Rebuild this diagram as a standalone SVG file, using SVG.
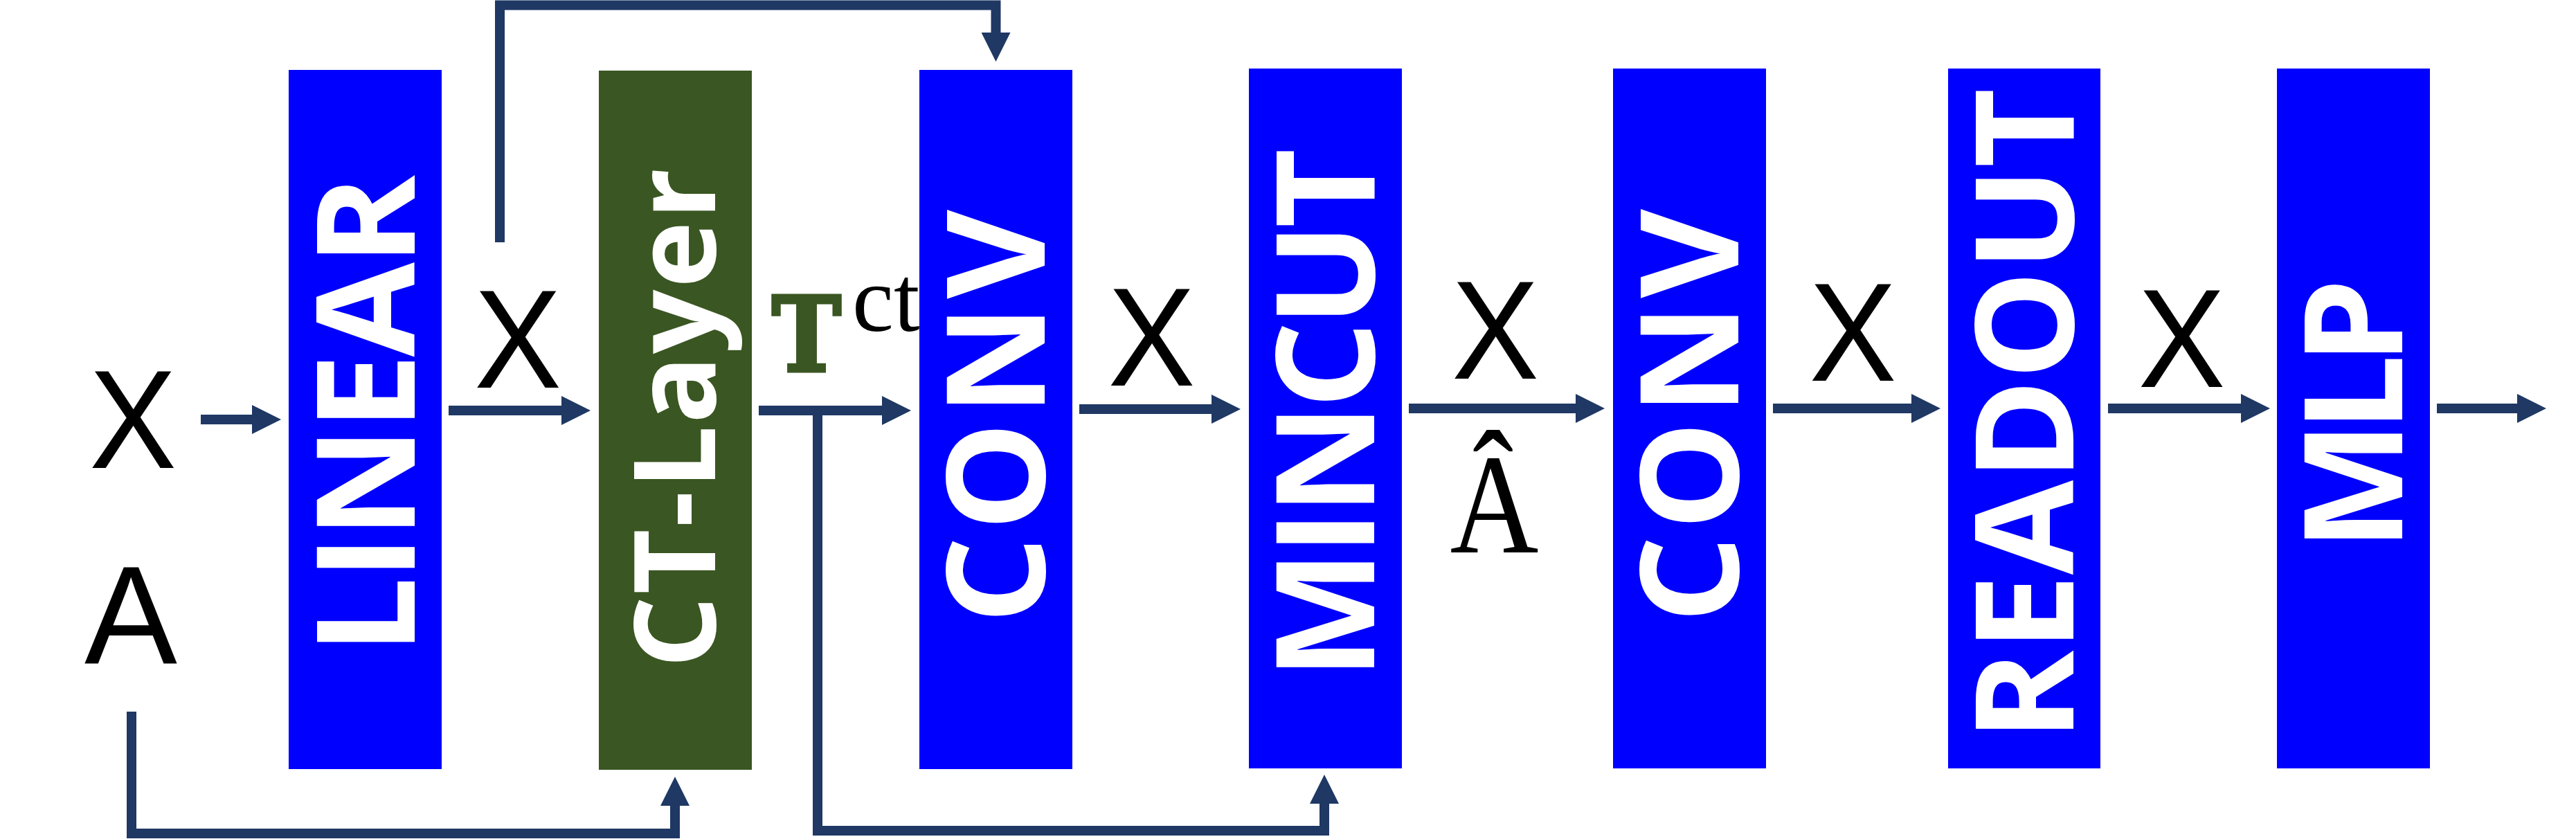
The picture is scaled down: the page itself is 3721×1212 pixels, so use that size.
<svg xmlns="http://www.w3.org/2000/svg" width="3721" height="1212" viewBox="0 0 3721 1212">
  <style>
    .blue { fill: #0000FF; }
    .green { fill: #3A5622; }
    .lbl { font-family: "Open Sans", Lato, sans-serif; font-weight: 700; font-size: 198px; fill: #FFFFFF; text-anchor: middle; }
    .var { font-family: "Liberation Sans", Arial, sans-serif; font-size: 203px; fill: #000000; text-anchor: middle; }
    .math { font-family: "Liberation Serif", "Times New Roman", serif; fill: #000000; }
    .conn { fill: none; stroke: #1F3864; stroke-width: 14; stroke-linejoin: miter; stroke-linecap: butt; marker-end: url(#arrow); }
  </style>
  <defs>
    <marker id="arrow" markerUnits="userSpaceOnUse" markerWidth="42" markerHeight="42" viewBox="0 0 42 42" refX="12" refY="21" orient="auto">
      <path d="M0,0 L42,21 L0,42 z" fill="#1F3864"/>
    </marker>
  </defs>

  <g id="node-linear">
    <rect class="blue" x="417" y="101" width="221" height="1010"/>
    <text class="lbl" transform="translate(599,599) rotate(-90)" textLength="692" lengthAdjust="spacing">LINEAR</text>
  </g>
  <g id="node-ctlayer">
    <rect class="green" x="865" y="102" width="221" height="1010"/>
    <text class="lbl" style="font-size:163px" transform="translate(1033,604) rotate(-90)" textLength="722" lengthAdjust="spacing">CT-Layer</text>
  </g>
  <g id="node-conv1">
    <rect class="blue" x="1328" y="101" width="221" height="1010"/>
    <text class="lbl" transform="translate(1509,602) rotate(-90)" textLength="598" lengthAdjust="spacing">CONV</text>
  </g>
  <g id="node-mincut">
    <rect class="blue" x="1804" y="99" width="221" height="1011"/>
    <text class="lbl" transform="translate(1985,598) rotate(-90)" textLength="767" lengthAdjust="spacing">MINCUT</text>
  </g>
  <g id="node-conv2">
    <rect class="blue" x="2330" y="99" width="221" height="1011"/>
    <text class="lbl" transform="translate(2511,601) rotate(-90)" textLength="598" lengthAdjust="spacing">CONV</text>
  </g>
  <g id="node-readout">
    <rect class="blue" x="2814" y="99" width="220" height="1011"/>
    <text class="lbl" transform="translate(2995,599) rotate(-90)" textLength="943" lengthAdjust="spacing">READOUT</text>
  </g>
  <g id="node-mlp">
    <rect class="blue" x="3289" y="99" width="221" height="1011"/>
    <text class="lbl" transform="translate(3470,599) rotate(-90)" textLength="393" lengthAdjust="spacing">MLP</text>
  </g>

  <g id="connectors">
    <path class="conn" d="M290,606 H376"/>
    <path class="conn" d="M648,593 H823"/>
    <path class="conn" d="M1096,593 H1286"/>
    <path class="conn" d="M1559,591 H1762"/>
    <path class="conn" d="M2035,590 H2288"/>
    <path class="conn" d="M2561,590 H2773"/>
    <path class="conn" d="M3045,590 H3249"/>
    <path class="conn" d="M3520,590 H3648"/>
    <path class="conn" d="M722,350 V7.5 H1438.5 V59"/>
    <path class="conn" d="M190,1028 V1204 H975 V1152"/>
    <path class="conn" d="M1181,593 V1200 H1913 V1149"/>
  </g>

  <g id="labels">
    <text class="var" x="192" y="676" textLength="126" lengthAdjust="spacingAndGlyphs">X</text>
    <text class="var" x="189" y="959" textLength="134" lengthAdjust="spacingAndGlyphs">A</text>
    <text class="var" x="748" y="560" textLength="126" lengthAdjust="spacingAndGlyphs">X</text>
    <text class="var" x="1663.5" y="557" textLength="126" lengthAdjust="spacingAndGlyphs">X</text>
    <text class="var" x="2160" y="547" textLength="126" lengthAdjust="spacingAndGlyphs">X</text>
    <text class="var" x="2676.5" y="550" textLength="126" lengthAdjust="spacingAndGlyphs">X</text>
    <text class="var" x="3151.5" y="559" textLength="126" lengthAdjust="spacingAndGlyphs">X</text>
    <text x="1115" y="536" font-weight="bold" style="font-family:'DejaVu Serif','Liberation Serif',serif;font-size:150px;fill:#3A5622;stroke:#3A5622;stroke-width:5" textLength="100" lengthAdjust="spacingAndGlyphs">T</text>
    <text class="math" x="1231" y="478" style="font-size:135px">ct</text>
    <text class="math" x="2158.5" y="798" style="font-size:205px;text-anchor:middle" textLength="128" lengthAdjust="spacingAndGlyphs">Â</text>
  </g>
</svg>
